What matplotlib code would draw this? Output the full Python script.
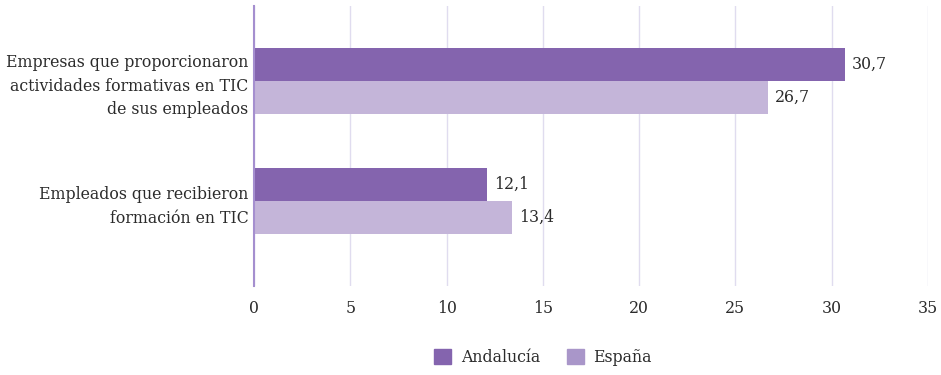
import matplotlib
matplotlib.use("Agg")
import matplotlib.pyplot as plt
from matplotlib.patches import Patch

categories = ["Empresas que proporcionaron\nactividades formativas en TIC\nde sus empleados",
              "Empleados que recibieron\nformación en TIC"]
series_names = ["Andalucía", "España"]
andalucia = [30.7, 12.1]
espana = [26.7, 13.4]
xticks = [0, 5, 10, 15, 20, 25, 30, 35]

c_dark = "#8464ae"
c_light = "#c4b5d9"
c_leg_light = "#a996c9"
txt = "#2b2b2b"
fs = 11.3

plt.rcParams['font.family'] = ['DejaVu Serif']

fig = plt.figure(figsize=(9.41, 3.75), dpi=100)
ax = fig.add_axes([254/941, 1-286/375, (928-254)/941, 280/375])

h = 0.275
pos = list(range(len(categories)))
ax.barh([p - h/2 for p in pos], andalucia, height=h, color=c_dark, zorder=3)
ax.barh([p + h/2 for p in pos], espana, height=h, color=c_light, zorder=3)

for p, v in zip(pos, andalucia):
    ax.text(v + 0.35, p - h/2, f"{v:.1f}".replace(".", ","), va="center", ha="left",
            fontsize=fs, color=txt)
for p, v in zip(pos, espana):
    ax.text(v + 0.35, p + h/2, f"{v:.1f}".replace(".", ","), va="center", ha="left",
            fontsize=fs, color=txt)

ax.set_xlim(0, 35)
ax.set_ylim(1.708, -0.625)
ax.set_xticks(xticks)
ax.set_xticklabels([str(t) for t in xticks], fontsize=fs, color=txt)
ax.set_yticks(pos)
ax.set_yticklabels(categories, fontsize=fs, color=txt, linespacing=1.5)
ax.tick_params(axis="both", length=0)
ax.tick_params(axis="x", pad=10)
ax.tick_params(axis="y", pad=4)
ax.grid(axis="x", color="#e0dcef", linewidth=1, zorder=0)
for s in ["top", "right", "bottom"]:
    ax.spines[s].set_visible(False)
ax.spines["left"].set_color("#a58fcf")
ax.spines["left"].set_linewidth(1.5)
ax.spines["left"].set_zorder(4)

handles = [Patch(color=c_dark), Patch(color=c_leg_light)]
fig.legend(handles, series_names, loc="center", bbox_to_anchor=(543/941, 1-357/375),
           ncol=2, frameon=False, fontsize=fs, handlelength=1.1, handleheight=1.1,
           columnspacing=1.7, handletextpad=0.6, labelcolor=txt)

fig.savefig("out.png", dpi=100)
